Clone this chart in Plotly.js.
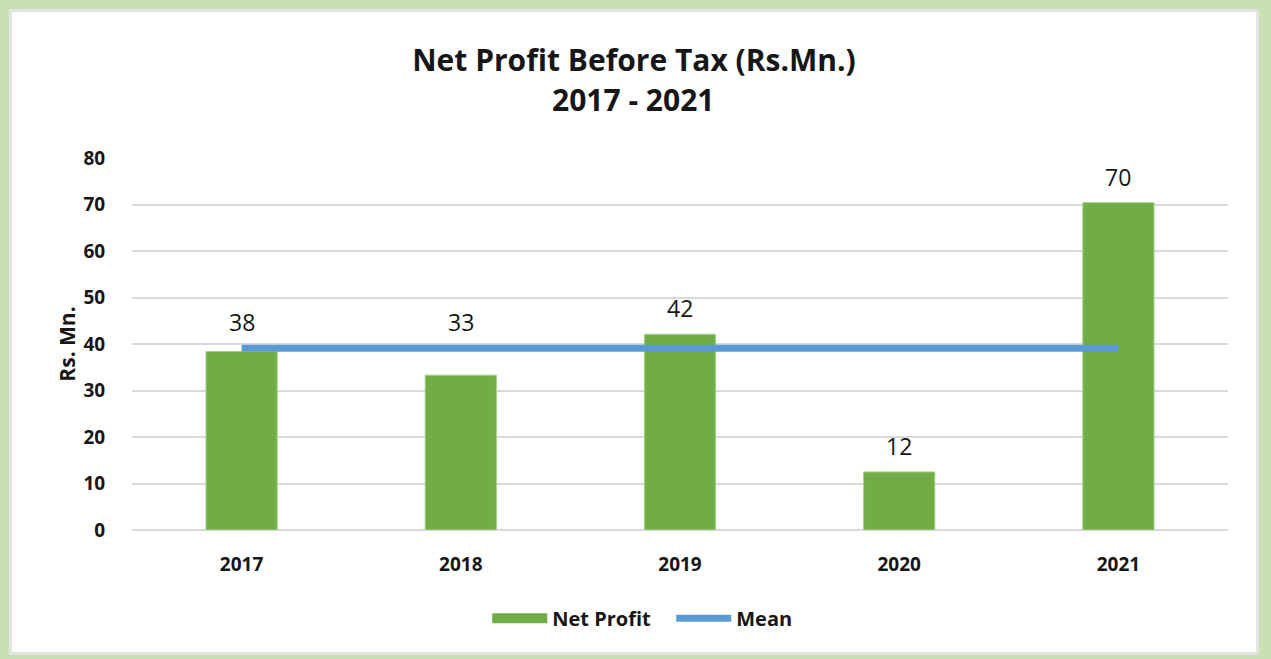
<!DOCTYPE html>
<html>
<head>
<meta charset="utf-8">
<script src="https://cdn.plot.ly/plotly-3.0.1.min.js"></script>
<style>
  html, body { margin: 0; padding: 0; }
  body { width: 1271px; height: 659px; background: #c9e0b5; position: relative; overflow: hidden; }
  #frame { position: absolute; left: 9px; top: 9px; width: 1250px; height: 646px;
           background: #ffffff; border: 3px solid #e3e3e3; box-sizing: border-box; }
  #chart { width: 1244px; height: 640px; }
</style>
</head>
<body>
<div id="frame"><div id="chart"></div></div>
<script>
// values
var years = ['2017', '2018', '2019', '2020', '2021'];
var netProfit = [38.4, 33.3, 42.1, 12.5, 70.4];
var profitLabels = ['38', '33', '42', '12', '70'];
var meanValues = [39.1, 39.1, 39.1, 39.1, 39.1];

var green = '#70ad47';
var blue = '#5b9bd5';
var font = '"Open Sans", Lato, sans-serif';
var ink = '#161616';

var barTrace = {
    x: years,
    y: netProfit,
    type: 'bar',
    name: 'Net Profit',
    width: 0.325,
    marker: { color: green, line: { color: '#a9d18e', width: 1 } },
    showlegend: false
};

// legend entry for the bars, drawn as a thick line so it looks like Excel's wide swatch
var barLegend = {
    x: [null],
    y: [null],
    type: 'scatter',
    mode: 'lines',
    name: 'Net Profit',
    line: { color: green, width: 16 }
};

var meanTrace = {
    x: years,
    y: meanValues,
    type: 'scatter',
    mode: 'lines',
    name: 'Mean',
    line: { color: blue, width: 7 }
};

// data labels above the bars (category axis -> use the index);
// a label that would sit on the mean line is lifted above it
var annotations = years.map(function (yr, i) {
    var v = netProfit[i];
    var m = meanValues[i];
    var labelY = (v < m && m - v < 8) ? m : v;
    return {
        x: i,
        y: labelY,
        text: profitLabels[i],
        showarrow: false,
        yanchor: 'bottom',
        yshift: 8,
        font: { family: font, size: 23, color: ink }
    };
});

// second title line
annotations.push({
    xref: 'paper',
    yref: 'paper',
    x: 0.4575,
    y: 1.156,
    xanchor: 'center',
    yanchor: 'middle',
    text: '<b>2017 - 2021</b>',
    showarrow: false,
    font: { family: font, size: 30, color: ink }
});

var layout = {
    width: 1244,
    height: 640,
    margin: { l: 120, r: 28, t: 146, b: 122 },
    paper_bgcolor: '#ffffff',
    plot_bgcolor: '#ffffff',
    font: { family: font, color: ink },
    title: {
        text: '<b>Net Profit Before Tax (Rs.Mn.)</b>',
        font: { family: font, size: 30, color: ink },
        x: 0.5,
        xanchor: 'center',
        yref: 'container',
        y: 0.925,
        yanchor: 'middle'
    },
    xaxis: {
        type: 'category',
        showgrid: false,
        zeroline: false,
        showline: false,
        ticks: 'outside',
        ticklen: 17,
        tickcolor: 'rgba(0,0,0,0)',
        tickfont: { family: font, size: 19, color: ink, weight: 'bold' },
        range: [-0.5, 4.5]
    },
    yaxis: {
        range: [0, 80],
        dtick: 10,
        showgrid: true,
        gridcolor: '#d9d9d9',
        gridwidth: 2,
        zeroline: true,
        zerolinecolor: '#d9d9d9',
        zerolinewidth: 2,
        showline: false,
        ticks: 'outside',
        ticklen: 22,
        tickcolor: 'rgba(0,0,0,0)',
        tickfont: { family: font, size: 19, color: ink, weight: 'bold' },
        title: {
            text: '<b>Rs. Mn.</b>',
            font: { family: font, size: 21, color: ink }
        }
    },
    legend: {
        orientation: 'h',
        x: 0.492,
        xanchor: 'center',
        y: -0.237,
        yanchor: 'middle',
        itemwidth: 55,
        entrywidth: 114,
        font: { family: font, size: 20, color: ink, weight: 'bold' },
        traceorder: 'normal'
    },
    annotations: annotations
};

Plotly.newPlot('chart', [barTrace, barLegend, meanTrace], layout, { displayModeBar: false, staticPlot: true });
</script>
</body>
</html>
